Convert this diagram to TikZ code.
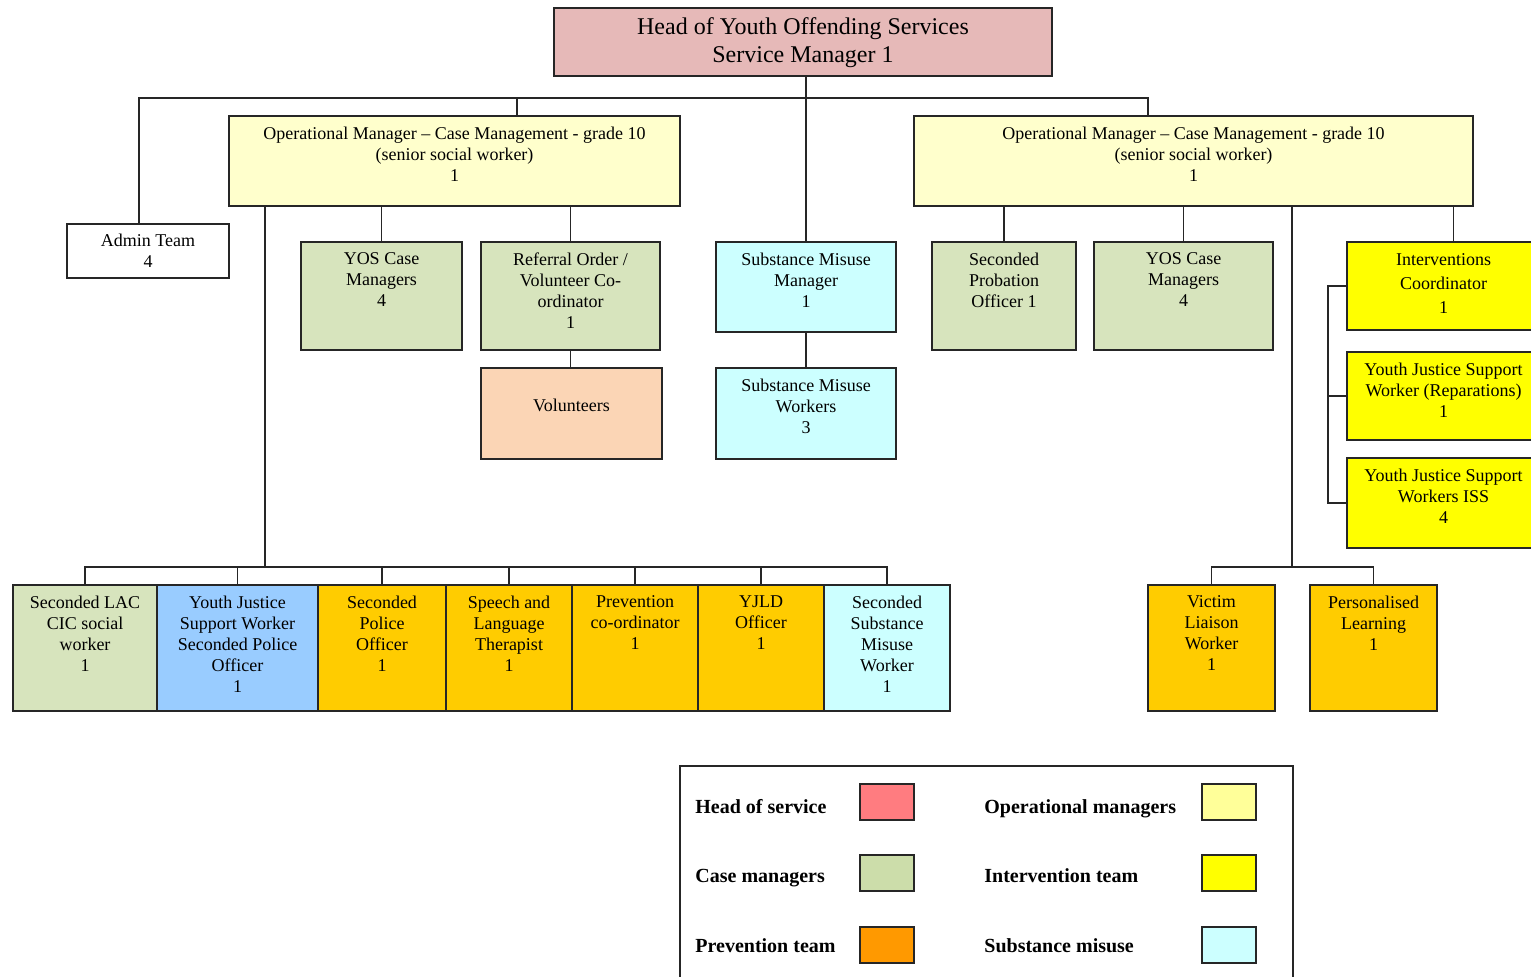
\documentclass[tikz,border=0pt]{standalone}
\usepackage{fontspec}
\setmainfont{Liberation Serif}
\usetikzlibrary{positioning,fit}
\definecolor{headpink}{HTML}{E6B9B8}
\definecolor{opyellow}{HTML}{FFFFCC}
\definecolor{casegreen}{HTML}{D7E4BD}
\definecolor{subcyan}{HTML}{CCFFFF}
\definecolor{volpeach}{HTML}{FBD5B5}
\definecolor{jsblue}{HTML}{99CCFF}
\definecolor{prevorange}{HTML}{FFCC00}
\definecolor{intyellow}{HTML}{FFFF00}
\definecolor{keypink}{HTML}{FF7C80}
\definecolor{keyyellow}{HTML}{FFFF99}
\definecolor{keygreen}{HTML}{CCDDAA}
\definecolor{keyorange}{HTML}{FF9900}
\tikzset{
    unit/.style={draw=black!85, line width=0.8pt, inner sep=0pt},
    lbl/.style={align=center, inner sep=1pt, font=\fontsize{9}{10.5}\selectfont},
    link/.style={draw=black!85, line width=0.7pt},
    legtxt/.style={anchor=base west, inner sep=0pt, font=\bfseries\fontsize{10}{12}\selectfont}
}

\begin{document}
\begin{tikzpicture}[x=0.5pt, y=-0.5pt]
                        \useasboundingbox (0,0) rectangle (1531,977);
                        \clip (0,0) rectangle (1531,977);

                        \node[unit, fill=headpink, fit={(554,8) (1052,76)}] (head) {};
                        \node[align=center, font=\fontsize{12}{14}\selectfont] (head-t) at ([yshift=-0.5pt]head.center) {Head of Youth Offending Services\\Service Manager 1};

                        \node[unit, fill=opyellow, fit={(229,116) (680,206)}] (opm1) {};
                        \node[lbl, below=4.5pt of opm1.north] (opm1-t) {Operational Manager -- Case Management - grade 10\\(senior social worker)\\1};
                        \node[unit, fill=opyellow, fit={(914,116) (1473,206)}] (opm2) {};
                        \node[lbl, below=4.5pt of opm2.north] (opm2-t) {Operational Manager -- Case Management - grade 10\\(senior social worker)\\1};

                        \node[unit, fill=white, fit={(67,224) (229,278)}] (admin) {};
                        \node[lbl] (admin-t) at (admin.center) {Admin Team\\4};

                        \node[unit, fill=casegreen, fit={(301,242) (462,350)}] (yos1) {};
                        \node[lbl, below=4.5pt of yos1.north] (yos1-t) {YOS Case\\Managers\\4};
                        \node[unit, fill=casegreen, fit={(481,242) (660,350)}] (refer) {};
                        \node[lbl, below=4.5pt of refer.north] (refer-t) {Referral Order /\\Volunteer Co-\\ordinator\\1};
                        \node[unit, fill=volpeach, fit={(481,368) (662,459)}] (volun) {};
                        \node[lbl] (volun-t) at ([yshift=4pt]volun.center) {Volunteers};

                        \node[unit, fill=subcyan, fit={(716,242) (896,332)}] (smm) {};
                        \node[lbl, below=4.5pt of smm.north] (smm-t) {Substance Misuse\\Manager\\1};
                        \node[unit, fill=subcyan, fit={(716,368) (896,459)}] (smw) {};
                        \node[lbl, below=4.5pt of smw.north] (smw-t) {Substance Misuse\\Workers\\3};

                        \node[unit, fill=casegreen, fit={(932,242) (1076,350)}] (sprob) {};
                        \node[lbl, below=4.5pt of sprob.north] (sprob-t) {Seconded\\Probation\\Officer 1};
                        \node[unit, fill=casegreen, fit={(1094,242) (1273,350)}] (yos2) {};
                        \node[lbl, below=4.5pt of yos2.north] (yos2-t) {YOS Case\\Managers\\4};

                        \node[unit, fill=intyellow, fit={(1347,242) (1540,330)}] (intc) {};
                        \node[lbl, below=5pt of intc.north, font=\fontsize{9}{12}\selectfont] (intc-t) {Interventions\\Coordinator\\1};
                        \node[unit, fill=intyellow, fit={(1347,352) (1540,440)}] (yjsw) {};
                        \node[lbl, below=4.5pt of yjsw.north] (yjsw-t) {Youth Justice Support\\Worker (Reparations)\\1};
                        \node[unit, fill=intyellow, fit={(1347,458) (1540,548)}] (iss) {};
                        \node[lbl, below=4.5pt of iss.north] (iss-t) {Youth Justice Support\\Workers ISS\\4};

                        \node[unit, fill=casegreen, fit={(13,585) (157,711)}] (lac) {};
                        \node[lbl, below=4.5pt of lac.north] (lac-t) {Seconded LAC\\CIC social\\worker\\1};
                        \node[unit, fill=jsblue, fit={(157,585) (318,711)}] (jsw) {};
                        \node[lbl, below=4.5pt of jsw.north] (jsw-t) {Youth Justice\\Support Worker\\Seconded Police\\Officer\\1};
                        \node[unit, fill=prevorange, fit={(318,585) (446,711)}] (spol) {};
                        \node[lbl, below=4.5pt of spol.north] (spol-t) {Seconded\\Police\\Officer\\1};
                        \node[unit, fill=prevorange, fit={(446,585) (572,711)}] (slt) {};
                        \node[lbl, below=4.5pt of slt.north] (slt-t) {Speech and\\Language\\Therapist\\1};
                        \node[unit, fill=prevorange, fit={(572,585) (698,711)}] (prev) {};
                        \node[lbl, below=4.5pt of prev.north] (prev-t) {Prevention\\co-ordinator\\1};
                        \node[unit, fill=prevorange, fit={(698,585) (824,711)}] (yjld) {};
                        \node[lbl, below=4.5pt of yjld.north] (yjld-t) {YJLD\\Officer\\1};
                        \node[unit, fill=subcyan, fit={(824,585) (950,711)}] (ssm) {};
                        \node[lbl, below=4.5pt of ssm.north] (ssm-t) {Seconded\\Substance\\Misuse\\Worker\\1};

                        \node[unit, fill=prevorange, fit={(1148,585) (1275,711)}] (victim) {};
                        \node[lbl, below=4.5pt of victim.north] (victim-t) {Victim\\Liaison\\Worker\\1};
                        \node[unit, fill=prevorange, fit={(1310,585) (1437,711)}] (perslearn) {};
                        \node[lbl, below=4.5pt of perslearn.north] (perslearn-t) {Personalised\\Learning\\1};

                        \coordinate (bus1a) at (139,98);
                        \coordinate (bus1l) at (517,98);
                        \coordinate (bus1r) at (1148,98);
                        \coordinate (bus2) at (265,567);
                        \coordinate (bus3) at (1292,567);
                        \coordinate (brk) at (1328,0);

                        \draw[link] (smm.north |- head.south) -- (smm.north);
                        \draw[link] (bus1a |- admin.north) -- (bus1a) -- (bus1r) -- (bus1r |- opm2.north);
                        \draw[link] (bus1l) -- (bus1l |- opm1.north);
                        \draw[link] (yos1.north |- opm1.south) -- (yos1.north);
                        \draw[link] (refer.north |- opm1.south) -- (refer.north);
                        \draw[link] (refer.south) -- (refer.south |- volun.north);
                        \draw[link] (smm.south) -- (smw.north);
                        \draw[link] (opm1.south -| bus2) -- (bus2);
                        \draw[link] (lac.north) |- (ssm.north |- bus2) -- (ssm.north);
                        \draw[link] (jsw.north) -- (jsw.north |- bus2);
                        \draw[link] (spol.north) -- (spol.north |- bus2);
                        \draw[link] (slt.north) -- (slt.north |- bus2);
                        \draw[link] (prev.north) -- (prev.north |- bus2);
                        \draw[link] (yjld.north) -- (yjld.north |- bus2);
                        \draw[link] (sprob.north |- opm2.south) -- (sprob.north);
                        \draw[link] (yos2.north |- opm2.south) -- (yos2.north);
                        \draw[link] ([xshift=5pt]intc.north |- opm2.south) -- ([xshift=5pt]intc.north);
                        \draw[link] (opm2.south -| bus3) -- (bus3);
                        \draw[link] (victim.north) |- (perslearn.north |- bus3) -- (perslearn.north);
                        \draw[link] (intc.west) -- (intc.west -| brk) -- (iss.west -| brk) -- (iss.west);
                        \draw[link] (yjsw.west -| brk) -- (yjsw.west);

                        \node[unit, fit={(680,766) (1293,990)}] (key) {};
                        \node[legtxt] (key-head) at (695,813) {Head of service};
                        \node[unit, fill=keypink, fit={(860,784) (914,820)}] (sw-head) {};
                        \node[legtxt] (key-opm) at (984,813) {Operational managers};
                        \node[unit, fill=keyyellow, fit={(1202,784) (1256,820)}] (sw-opm) {};
                        \node[legtxt] (key-case) at (695,882) {Case managers};
                        \node[unit, fill=keygreen, fit={(860,855) (914,891)}] (sw-case) {};
                        \node[legtxt] (key-int) at (984,882) {Intervention team};
                        \node[unit, fill=intyellow, fit={(1202,855) (1256,891)}] (sw-int) {};
                        \node[legtxt] (key-prev) at (695,952) {Prevention team};
                        \node[unit, fill=keyorange, fit={(860,927) (914,963)}] (sw-prev) {};
                        \node[legtxt] (key-sub) at (984,952) {Substance misuse};
                        \node[unit, fill=subcyan, fit={(1202,927) (1256,963)}] (sw-sub) {};
                    \end{tikzpicture}
\end{document}
